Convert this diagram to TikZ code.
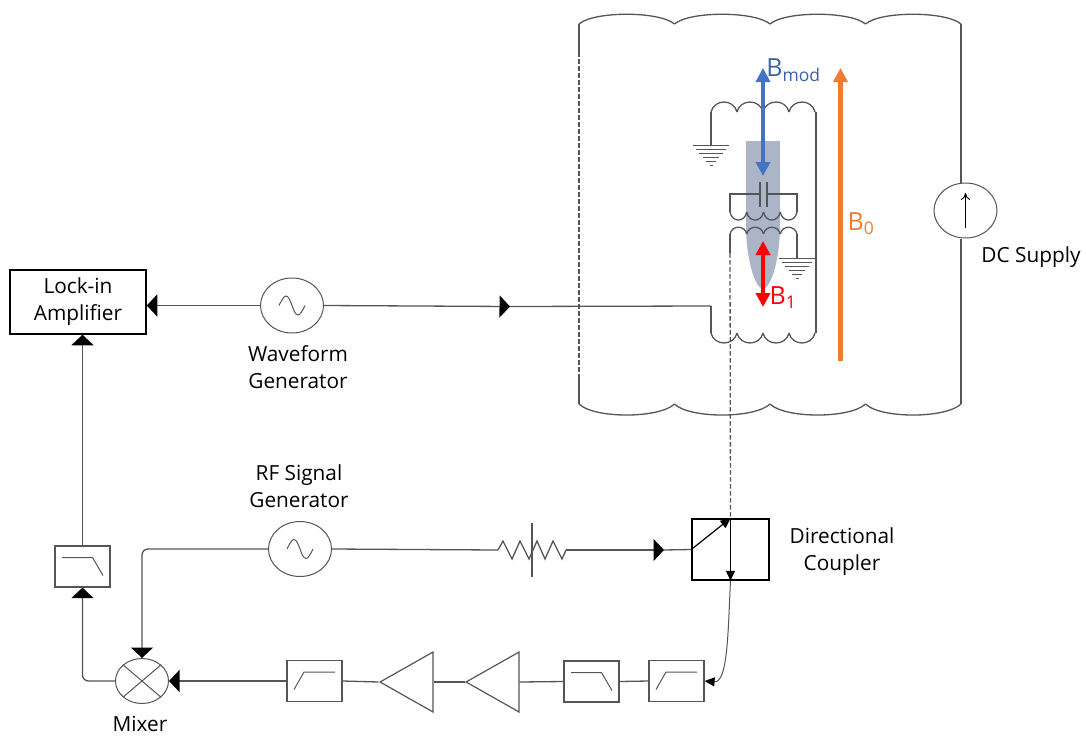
\documentclass[tikz,border=0pt]{standalone}
\usepackage{fontspec}
\setmainfont{Open Sans}
\usetikzlibrary{positioning,arrows.meta,shapes.geometric}
\definecolor{wirecol}{RGB}{85,85,85}
\definecolor{samplecol}{RGB}{172,180,199}
\definecolor{modcol}{RGB}{68,114,196}
\definecolor{orangecol}{RGB}{237,125,49}
\tikzset {
    style wire/.style={
        draw=wirecol,
        line width=1.3pt,
    },
    style gen/.style={
        draw=wirecol,
        line width=1pt,
        ellipse, % Set the shape as an ellipse
        minimum width=63pt,
        minimum height=55pt,
        inner sep=0pt,
    },
    style filter/.style={
        draw=wirecol,
        line width=1.2pt,
        rectangle, % Set the shape as a rectangle
        minimum width=55pt,
        minimum height=41pt,
    },
    style box/.style={
        draw=black,
        line width=1.5pt,
        rectangle, % Set the shape as a rectangle
        align=center,
    },
    style amp/.style={
        draw=wirecol,
        line width=1.2pt,
        isosceles triangle,
        isosceles triangle stretches,
        shape border rotate=180,
        minimum width=60pt,
        minimum height=53pt,
        inner sep=0pt,
        anchor=apex,
    },
    style label/.style={
        draw=none,
        align=center,
        inner sep=0pt,
        font=\fontsize{20.8}{27}\selectfont,
    },
    style field/.style={
        line width=4.4pt,
        {Triangle[length=14pt,width=14pt]}-{Triangle[length=14pt,width=14pt]},
    },
    bigtip/.style={-{Triangle[length=10.5pt,width=22pt,color=black]}},
    smalltip/.style={-{Triangle[length=10pt,width=9pt,color=black]}},
}

\begin{document}
\begin{tikzpicture}[x=1pt,y=-1pt]
\useasboundingbox (0,0) rectangle (1086,736);

% sample
\fill[samplecol] (746,141) -- (780,141) -- (780,225) .. controls (780,262) and (770,289) .. (763,289) .. controls (756,289) and (746,262) .. (746,225) -- cycle;

\node[style box, minimum width=136pt, minimum height=64pt, font=\fontsize{20.8}{27}\selectfont] at (78,302) (lockin) {Lock-in\\Amplifier};
\node[style gen] at (292,305.5) (wavegen) {};
\node[style gen] at (300,549) (rfgen) {};
\node[style gen] at (965.5,210.5) (dcsupply) {};
\node[style gen, minimum width=53pt, minimum height=45pt] at (142,681) (mixer) {};
\node[style filter] at (82.5,566.5) (lowpassA) {};
\node[style filter] at (314.5,681) (highpassA) {};
\node[style amp] at (378.5,682) (ampA) {};
\node[style amp] at (464.5,682) (ampB) {};
\node[style filter] at (591.5,681.5) (lowpassB) {};
\node[style filter] at (676.5,681) (highpassB) {};
\node[style box, minimum width=77pt, minimum height=61pt] at (730.5,549.5) (coupler) {};

\node[style label] at (298,367.5) (wavelabel) {Waveform\\Generator};
\node[style label] at (299,486.5) (rflabel) {RF Signal\\Generator};
\node[style label] at (842,551.5) (couplerlabel) {Directional\\Coupler};
\node[style label] at (1031,257) (dclabel) {DC Supply};
\node[style label] at (140,724) (mixerlabel) {Mixer};
\node[style label, text=modcol!85!black, font=\fontsize{25}{27}\selectfont] at (793.5,70) (bmod) {B\textsubscript{mod}};
\node[style label, text=orangecol, font=\fontsize{25}{27}\selectfont] at (861,224) (bzero) {B\textsubscript{0}};
\node[style label, text=red, font=\fontsize{25}{27}\selectfont] at (783,298) (bone) {B\textsubscript{1}};

\coordinate (midwave) at (510,306.5);
\coordinate (coilin) at (711,306);
\coordinate (midrf) at (664,550);
\coordinate (resin) at (498,550);
\coordinate (resout) at (566,550);
\coordinate (rfcoil) at (730,253);

% magnet
\foreach \a in {579,674.5,770,865.5} {
    \draw[style wire] (\a,24) .. controls (\a+15,11) and (\a+80,11) .. (\a+95.5,24);
    \draw[style wire] (\a,404) .. controls (\a+15,418.7) and (\a+80,418.7) .. (\a+95.5,404);
}
\draw[style wire] (579,24) -- (579,52);
\draw[style wire, dash pattern=on 4.5pt off 2.5pt] (579,52) -- (579,374);
\draw[style wire] (579,374) -- (579,404);
\draw[style wire] (961,24) -- (dcsupply.north -| 961,0);
\draw[style wire] (dcsupply.south -| 961,0) -- (961,404);
\draw[-{To[length=7pt,width=9pt]}, line width=0.9pt] (965.5,228) -- (965.5,193);

% coils
\foreach \a in {711,737,763,789} {
    \draw[style wire] (\a,112) .. controls (\a+3,98.7) and (\a+23,98.7) .. (\a+26,112);
    \draw[style wire] (\a,333) .. controls (\a+3,346.3) and (\a+23,346.3) .. (\a+26,333);
}
\foreach \a in {730,746.75,763.5,780.25} {
    \draw[style wire] (\a,212) .. controls (\a+2,222.7) and (\a+14.75,222.7) .. (\a+16.75,212);
    \draw[style wire] (\a,234) .. controls (\a+2,225) and (\a+14.75,225) .. (\a+16.75,234);
}
\draw[style wire] (711,145) -- (711,112);
\draw[style wire] (816,112) -- (816,333);
\draw[style wire] (coilin) -- (711,333);
\draw[style wire] (730,212) -- (730,194) -- (760,194);
\draw[style wire] (797,212) -- (797,194) -- (767,194);
\draw[style wire] (760,182) -- (760,207);
\draw[style wire] (767,182) -- (767,207);
\draw[style wire] (rfcoil) -- (730,234);
\draw[style wire] (797,258) -- (797,234);

% grounds
\foreach \gx/\gy in {711/145,797/258} {
    \foreach \d/\w in {0/18,4/15,8/12,12/8,16/5,20/1.5} {
        \draw[wirecol, line width=1pt] (\gx-\w,\gy+\d) -- (\gx+\w,\gy+\d);
    }
}

% fields
\draw[style field, draw=modcol, fill=modcol] (763,68) -- (763,176);
\draw[style field, draw=red, fill=red] (763,241) -- (763,307);
\draw[line width=4.6pt, draw=orangecol, fill=orangecol, -{Triangle[length=14pt,width=14pt]}] (840.5,361) -- (840.5,68);

% symbols
\foreach \gen in {wavegen,rfgen} {
    \draw[wirecol, line width=1pt, shift={(\gen.center)}] (-13,0) .. controls (-10,-6) and (-8,-9.5) .. (-6,-9.5) .. controls (-1,-9.5) and (1,9.5) .. (6,9.5) .. controls (8,9.5) and (10,6) .. (13,0);
}
\foreach \filt in {highpassA,highpassB} {
    \draw[wirecol, line width=1pt, shift={(\filt.center)}] (-20.5,8.5) -- (-10.5,-9) -- (20.5,-9);
}
\foreach \filt in {lowpassA,lowpassB} {
    \draw[wirecol, line width=1pt, shift={(\filt.center)}] (-20.5,-9) -- (10,-9) -- (20.5,9);
}
\draw[style wire, line width=1pt] (mixer.north west) -- (mixer.south east);
\draw[style wire, line width=1pt] (mixer.north east) -- (mixer.south west);

% resistor
\draw[style wire] (rfgen.east) -- (resin);
\draw[style wire] (resin) -- (503,541) -- (512,559) -- (520,541) -- (529,559) -- (537,541) -- (545,559) -- (553,541) -- (562,559) -- (resout);
\draw[style wire] (532,523) -- (532,577);
\draw[style wire, bigtip] (resout) -- (midrf);
\draw[style wire] (midrf) -- (coupler.west);

% connections
\draw[style wire, bigtip] (wavegen.west) -- (lockin.east |- wavegen);
\draw[style wire, bigtip] (wavegen.east) -- (midwave);
\draw[style wire] (midwave) -- (coilin);
\draw[style wire, dash pattern=on 4.5pt off 2.5pt] (rfcoil) -- (coupler.north);
\draw[black, line width=1.2pt, smalltip] (coupler.west) -- (coupler.north);
\draw[black, line width=1.2pt, smalltip] (coupler.north) -- (coupler.south);
\draw[wirecol, line width=1pt, smalltip] (coupler.south) .. controls (728,630) and (728,683) .. (highpassB.east);
\draw[style wire] (highpassB.west) -- (lowpassB.east);
\draw[style wire] (lowpassB.west) -- (ampB.lower side);
\draw[style wire] (ampB.apex) -- (ampA.lower side);
\draw[style wire] (ampA.apex) -- (highpassA.east);
\draw[style wire, bigtip] (highpassA.west) -- (mixer.east);
\draw[style wire, bigtip, rounded corners=6pt] (rfgen.west) -| (mixer.north);
\draw[style wire, bigtip, rounded corners=6pt] (mixer.west) -| (lowpassA.south);
\draw[style wire, bigtip] (lowpassA.north) -- (lockin.south -| lowpassA);
\end{tikzpicture}
\end{document}
